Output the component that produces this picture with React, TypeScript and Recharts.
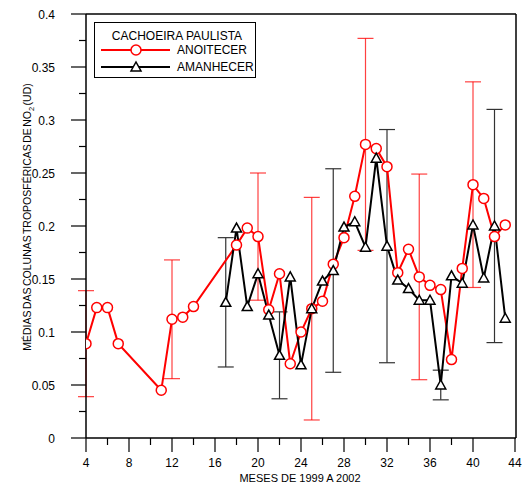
import React from 'react'
import { ComposedChart, Line, Scatter, ErrorBar, XAxis, YAxis, ReferenceLine, Legend } from 'recharts'

// meses (x) e médias das colunas
const anoitecerMes = [4, 5, 6, 7, 11, 12, 13, 14, 18, 19, 20, 21, 22, 23, 24, 25, 26, 27, 28, 29, 30, 31, 32, 33, 34, 35, 36, 37, 38, 39, 40, 41, 42, 43]
const anoitecerVal = [0.089, 0.123, 0.123, 0.089, 0.045, 0.112, 0.114, 0.124, 0.182, 0.198, 0.19, 0.121, 0.155, 0.07, 0.1, 0.122, 0.129, 0.164, 0.189, 0.228, 0.277, 0.273, 0.256, 0.156, 0.178, 0.152, 0.144, 0.14, 0.074, 0.16, 0.239, 0.226, 0.19, 0.201]

const amanhecerMes = [17, 18, 19, 20, 21, 22, 23, 24, 25, 26, 27, 28, 29, 30, 31, 32, 33, 34, 35, 36, 37, 38, 39, 40, 41, 42, 43]
const amanhecerVal = [0.128, 0.198, 0.124, 0.155, 0.116, 0.078, 0.152, 0.069, 0.122, 0.148, 0.158, 0.199, 0.204, 0.18, 0.264, 0.181, 0.149, 0.141, 0.13, 0.13, 0.05, 0.153, 0.146, 0.201, 0.151, 0.2, 0.113]

// desvios
const anoitecerErrMes = [4, 12, 20, 25, 30, 35, 40]
const anoitecerErr = [0.05, 0.056, 0.06, 0.105, 0.1, 0.097, 0.097]
const amanhecerErrMes = [17, 22, 27, 32, 37, 42]
const amanhecerErr = [0.061, 0.041, 0.096, 0.11, 0.014, 0.11]

const xTicks = [4, 6, 8, 10, 12, 14, 16, 18, 20, 22, 24, 26, 28, 30, 32, 34, 36, 38, 40, 42, 44]
const yTicks = [0, 0.025, 0.05, 0.075, 0.1, 0.125, 0.15, 0.175, 0.2, 0.225, 0.25, 0.275, 0.3, 0.325, 0.35, 0.375, 0.4]

const FONT = '"Liberation Sans", Arial, sans-serif'

const anoitecer = anoitecerMes.map((m, i) => ({ m, v: anoitecerVal[i] }))
const amanhecer = amanhecerMes.map((m, i) => ({ m, v: amanhecerVal[i] }))
const anoitecerErros = anoitecerErrMes.map((m, i) => ({ m, v: anoitecerVal[anoitecerMes.indexOf(m)], e: anoitecerErr[i] }))
const amanhecerErros = amanhecerErrMes.map((m, i) => ({ m, v: amanhecerVal[amanhecerMes.indexOf(m)], e: amanhecerErr[i] }))

const CircleDot = (p: any) => (
  <circle key={'c' + p.index} cx={p.cx} cy={p.cy} r={5} fill="#fff" stroke="#ff0000" strokeWidth={1.5} />
)

const triPath = (cx: number, cy: number) => `M${cx - 5},${cy + 4} L${cx + 5},${cy + 4} L${cx},${cy - 5} Z`

const TriDot = (p: any) => (
  <path key={'t' + p.index} d={triPath(p.cx, p.cy)} fill="#fff" stroke="#000" strokeWidth={1.5} />
)

const XTick = (props: any) => {
  const { x, y, payload } = props
  const major = payload.value % 4 === 0
  return (
    <g>
      <line x1={x} y1={y} x2={x} y2={y + (major ? 14 : 7)} stroke="#000" strokeWidth={1.2} />
      {major && (
        <text x={x} y={y + 29} textAnchor="middle" fontSize={12} fontFamily={FONT} fill="#000">
          {payload.value}
        </text>
      )}
    </g>
  )
}

const YTick = (props: any) => {
  const { x, y, payload } = props
  const major = Math.round(payload.value * 1000) % 50 === 0
  return (
    <g>
      <line x1={x} y1={y} x2={x - (major ? 15 : 7)} y2={y} stroke="#000" strokeWidth={1.2} />
      {major && (
        <text x={x - 31} y={y + 5} textAnchor="end" fontSize={12} fontFamily={FONT} fill="#000">
          {String(payload.value)}
        </text>
      )}
    </g>
  )
}

const LegendBox = () => (
  <svg width={162} height={56}>
    <rect x={0.5} y={0.5} width={161} height={55} fill="#fff" stroke="#000" />
    <text x={83} y={18} textAnchor="middle" fontSize={12} fontFamily={FONT}>CACHOEIRA PAULISTA</text>
    <line x1={7} y1={28} x2={76} y2={28} stroke="#ff0000" strokeWidth={2} />
    <circle cx={42} cy={28} r={5} fill="#fff" stroke="#ff0000" strokeWidth={1.5} />
    <text x={83} y={32} fontSize={12} fontFamily={FONT}>ANOITECER</text>
    <line x1={7} y1={45} x2={76} y2={45} stroke="#000" strokeWidth={2} />
    <path d={triPath(42, 45)} fill="#fff" stroke="#000" strokeWidth={1.5} />
    <text x={83} y={49} fontSize={12} fontFamily={FONT}>AMANHECER</text>
  </svg>
)

export default function App() {
  return (
    <div style={{ position: 'absolute', left: 0, top: 0, width: 523, height: 485, background: '#fff' }}>
      <ComposedChart width={523} height={485} margin={{ top: 14, right: 7, left: 0, bottom: 0 }}>
        <XAxis
          dataKey="m"
          type="number"
          domain={[4, 44]}
          ticks={xTicks}
          tickSize={0}
          tickMargin={0}
          height={47}
          tick={<XTick />}
          axisLine={{ stroke: '#000', strokeWidth: 1.5 }}
          allowDataOverflow
          label={{
            content: () => (
              <text x={300} y={482} textAnchor="middle" fontSize={11} fontFamily={FONT}>MESES DE 1999 A 2002</text>
            ),
          }}
        />
        <YAxis
          dataKey="v"
          type="number"
          domain={[0, 0.4]}
          ticks={yTicks}
          tickSize={0}
          tickMargin={0}
          width={86}
          tick={<YTick />}
          axisLine={{ stroke: '#000', strokeWidth: 1.5 }}
          allowDataOverflow
          label={{
            content: () => (
              <text transform="translate(31,217) rotate(-90)" textAnchor="middle" fontSize={10.5} wordSpacing={-1.5} fontFamily={FONT}>
                MÉDIAS DAS COLUNAS TROPOSFÉRICAS DE NO<tspan fontSize={7.5} dy={3}>2</tspan>
                <tspan dy={-3}> (UD)</tspan>
              </text>
            ),
          }}
        />
        <ReferenceLine y={0.4} stroke="#000" strokeWidth={1.5} />
        <ReferenceLine x={44} stroke="#000" strokeWidth={1.5} />
        <Scatter data={anoitecerErros} dataKey="v" shape={() => <g />} isAnimationActive={false} legendType="none">
          <ErrorBar dataKey="e" direction="y" width={8} stroke="#ff0000" strokeOpacity={0.75} strokeWidth={1.2} />
        </Scatter>
        <Scatter data={amanhecerErros} dataKey="v" shape={() => <g />} isAnimationActive={false} legendType="none">
          <ErrorBar dataKey="e" direction="y" width={8} stroke="#333" strokeWidth={1.2} />
        </Scatter>
        <Line
          data={anoitecer}
          dataKey="v"
          name="ANOITECER"
          type="linear"
          stroke="#ff0000"
          strokeWidth={2}
          dot={CircleDot}
          isAnimationActive={false}
        />
        <Line
          data={amanhecer}
          dataKey="v"
          name="AMANHECER"
          type="linear"
          stroke="#000"
          strokeWidth={2}
          dot={TriDot}
          isAnimationActive={false}
        />
        <Legend
          layout="horizontal"
          verticalAlign="middle"
          align="center"
          content={() => <LegendBox />}
          wrapperStyle={{ position: 'absolute', left: 94, top: 22, width: 162, height: 56 }}
        />
      </ComposedChart>
    </div>
  )
}
